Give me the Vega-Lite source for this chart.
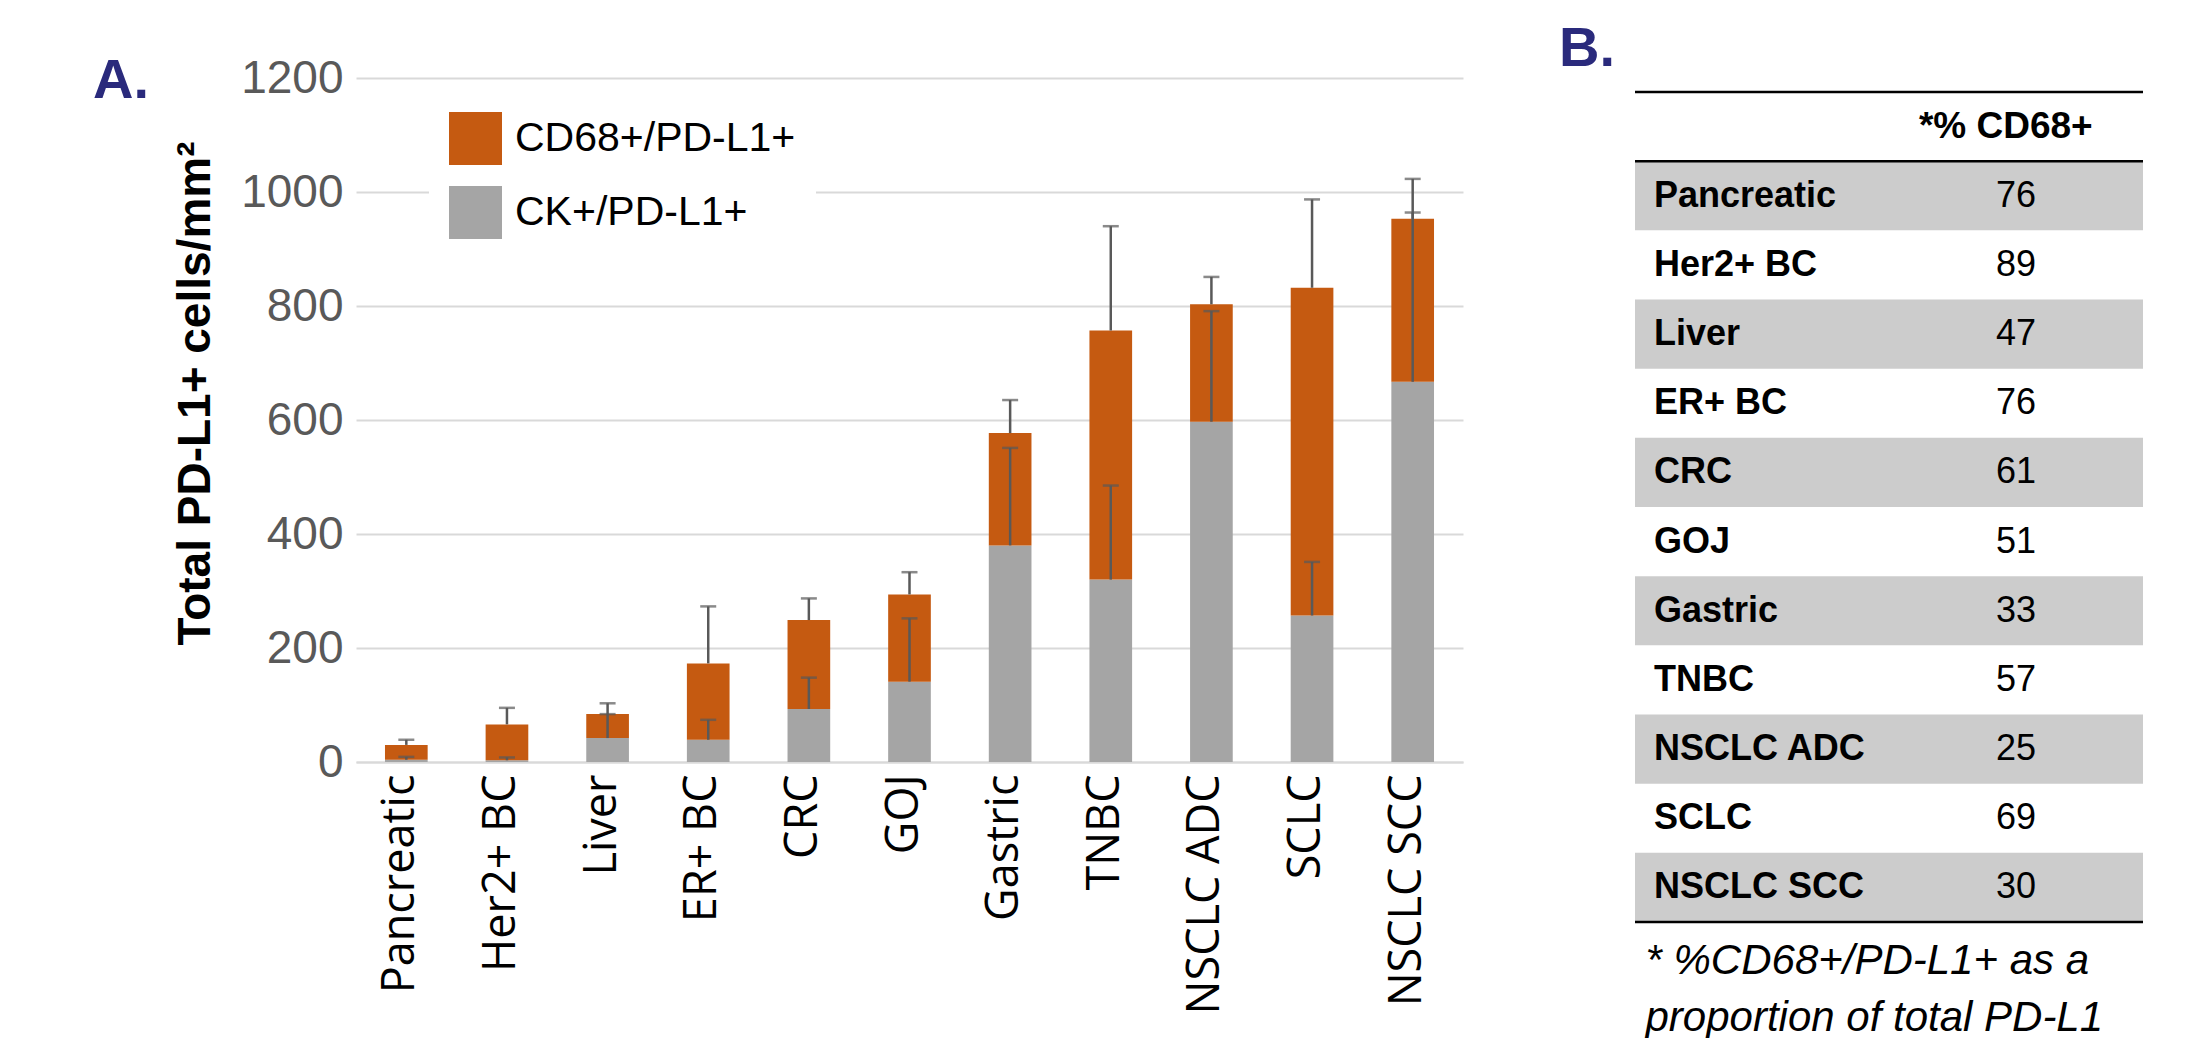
{
  "$schema": "https://vega.github.io/schema/vega-lite/v6.json",
  "background": "white",
  "autosize": {"type": "pad"},
  "padding": {"left": 93, "top": 21, "right": 0, "bottom": 0},
  "bounds": "flush",
  "spacing": 172,
  "config": {"view": {"stroke": null}, "font": "Liberation Sans"},
  "data": {"values": [
    {"cancer": "Pancreatic", "ck": 4, "ck_hi": 9, "total": 30, "total_hi": 39, "pct": 76},
    {"cancer": "Her2+ BC", "ck": 3, "ck_hi": 8, "total": 66, "total_hi": 95, "pct": 89},
    {"cancer": "Liver", "ck": 42, "ck_hi": 84, "total": 84, "total_hi": 103, "pct": 47},
    {"cancer": "ER+ BC", "ck": 39, "ck_hi": 74, "total": 173, "total_hi": 273, "pct": 76},
    {"cancer": "CRC", "ck": 93, "ck_hi": 148, "total": 249, "total_hi": 287, "pct": 61},
    {"cancer": "GOJ", "ck": 141, "ck_hi": 252, "total": 294, "total_hi": 333, "pct": 51},
    {"cancer": "Gastric", "ck": 380, "ck_hi": 551, "total": 577, "total_hi": 635, "pct": 33},
    {"cancer": "TNBC", "ck": 320, "ck_hi": 485, "total": 757, "total_hi": 940, "pct": 57},
    {"cancer": "NSCLC ADC", "ck": 597, "ck_hi": 791, "total": 803, "total_hi": 851, "pct": 25},
    {"cancer": "SCLC", "ck": 257, "ck_hi": 351, "total": 832, "total_hi": 987, "pct": 69},
    {"cancer": "NSCLC SCC", "ck": 667, "ck_hi": 964, "total": 953, "total_hi": 1023, "pct": 30}
  ]},
  "hconcat": [
    {
      "width": 1107,
      "height": 684,
      "title": {"text": "A.", "anchor": "start", "frame": "group", "orient": "top", "offset": 0, "dx": -263, "dy": 99, "baseline": "alphabetic", "font": "Liberation Sans", "fontWeight": "bold", "fontSize": 56, "color": "#2A2A7C"},
      "encoding": {
        "x": {"field": "cancer", "type": "nominal", "sort": null,
          "scale": {"paddingInner": 0.576, "paddingOuter": 0.288},
          "axis": {"title": null, "labelAngle": -90, "labelFont": "Open Sans", "labelFontSize": 45, "labelColor": "black", "labelPadding": 12, "labelOffset": -6, "labelLimit": 0, "ticks": false, "domainColor": "#D9D9D9", "domainWidth": 2}}
      },
      "layer": [
        {
          "mark": {"type": "bar"},
          "encoding": {
            "y": {"field": "ck", "type": "quantitative", "title": "Total PD-L1+ cells/mm²",
              "scale": {"domain": [0, 1200], "nice": false},
              "axis": {"values": [0, 200, 400, 600, 800, 1000, 1200], "format": "d", "grid": true, "gridColor": "#D9D9D9", "gridWidth": 2, "domain": false, "ticks": false, "labelFontSize": 46, "labelColor": "#595959", "labelPadding": 13, "titleFontSize": 46, "titleFontWeight": "bold", "titleColor": "black", "titlePadding": 21, "titleY": 315}},
            "color": {"datum": "CK+/PD-L1+", "type": "nominal",
              "scale": {"domain": ["CD68+/PD-L1+", "CK+/PD-L1+"], "range": ["#C55A11", "#A5A5A5"]},
              "legend": {"title": null, "orient": "none", "legendX": 73, "legendY": 14, "symbolType": "square", "symbolSize": 2809, "symbolStrokeWidth": 0, "labelFontSize": 41, "labelColor": "black", "labelOffset": 13, "labelLimit": 0, "fillColor": "white", "padding": 20, "rowPadding": 21}}
          }
        },
        {
          "mark": {"type": "bar"},
          "encoding": {
            "y": {"field": "ck", "type": "quantitative", "title": "Total PD-L1+ cells/mm²"},
            "y2": {"field": "total"},
            "color": {"datum": "CD68+/PD-L1+", "type": "nominal"}
          }
        },
        {
          "mark": {"type": "rule", "color": "#595959", "strokeWidth": 2.5},
          "encoding": {
            "y": {"field": "ck", "type": "quantitative", "title": "Total PD-L1+ cells/mm²"},
            "y2": {"field": "ck_hi"}
          }
        },
        {
          "mark": {"type": "tick", "color": "#595959", "thickness": 2.5, "size": 16},
          "encoding": {
            "y": {"field": "ck_hi", "type": "quantitative", "title": "Total PD-L1+ cells/mm²"}
          }
        },
        {
          "mark": {"type": "rule", "color": "#595959", "strokeWidth": 2.5},
          "encoding": {
            "y": {"field": "total", "type": "quantitative", "title": "Total PD-L1+ cells/mm²"},
            "y2": {"field": "total_hi"}
          }
        },
        {
          "mark": {"type": "tick", "color": "#595959", "thickness": 2.5, "size": 16},
          "encoding": {
            "y": {"field": "total_hi", "type": "quantitative", "title": "Total PD-L1+ cells/mm²"}
          }
        }
      ]
    },
    {
      "width": 508,
      "height": 844,
      "title": {"text": "B.", "anchor": "start", "frame": "group", "orient": "top", "offset": -44, "dx": -76, "baseline": "alphabetic", "font": "Liberation Sans", "fontWeight": "bold", "fontSize": 56, "color": "#2A2A7C"},
      "transform": [{"window": [{"op": "row_number", "as": "rn"}]}],
      "encoding": {
        "y": {"field": "cancer", "type": "nominal", "sort": null,
          "scale": {"domain": ["hdr", "Pancreatic", "Her2+ BC", "Liver", "ER+ BC", "CRC", "GOJ", "Gastric", "TNBC", "NSCLC ADC", "SCLC", "NSCLC SCC"], "range": [14, 844], "paddingInner": 0, "paddingOuter": 0},
          "axis": null}
      },
      "layer": [
        {
          "transform": [{"filter": "datum.rn % 2 == 1"}],
          "mark": {"type": "rect", "color": "#CCCCCC"},
          "encoding": {
            "x": {"datum": 0, "type": "quantitative", "scale": {"domain": [0, 1]},
              "axis": {"orient": "bottom", "domain": false, "ticks": false, "labels": false, "grid": false,
                "title": ["* %CD68+/PD-L1+ as a", "proportion of total PD-L1"],
                "titleFontSize": 42, "titleFontStyle": "italic", "titleFontWeight": "normal", "titleColor": "black",
                "titleAlign": "left", "titleBaseline": "top", "titleX": 10, "titleY": 18, "titleLineHeight": 57}},
            "x2": {"datum": 1}
          }
        },
        {
          "mark": {"type": "text", "align": "left", "baseline": "middle", "dx": 19, "fontWeight": "bold", "fontSize": 36, "color": "black"},
          "encoding": {
            "x": {"datum": 0, "type": "quantitative"},
            "text": {"field": "cancer"}
          }
        },
        {
          "mark": {"type": "text", "align": "center", "baseline": "middle", "fontSize": 36, "color": "black"},
          "encoding": {
            "x": {"datum": 0.75, "type": "quantitative"},
            "text": {"field": "pct"}
          }
        },
        {
          "transform": [{"filter": "datum.rn == 1"}],
          "mark": {"type": "text", "align": "center", "baseline": "middle", "fontSize": 37, "fontWeight": "bold", "color": "black", "text": "*% CD68+"},
          "encoding": {
            "x": {"datum": 0.73, "type": "quantitative"},
            "y": {"datum": "hdr"}
          }
        },
        {
          "transform": [{"filter": "datum.rn == 1"}],
          "mark": {"type": "rule", "color": "black", "strokeWidth": 2.5},
          "encoding": {"y": {"datum": "hdr", "bandPosition": 0}}
        },
        {
          "transform": [{"filter": "datum.rn == 1"}],
          "mark": {"type": "rule", "color": "black", "strokeWidth": 2.5},
          "encoding": {"y": {"datum": "hdr", "bandPosition": 1}}
        },
        {
          "transform": [{"filter": "datum.rn == 1"}],
          "mark": {"type": "rule", "color": "black", "strokeWidth": 2.5},
          "encoding": {"y": {"datum": "NSCLC SCC", "bandPosition": 1}}
        }
      ]
    }
  ]
}
